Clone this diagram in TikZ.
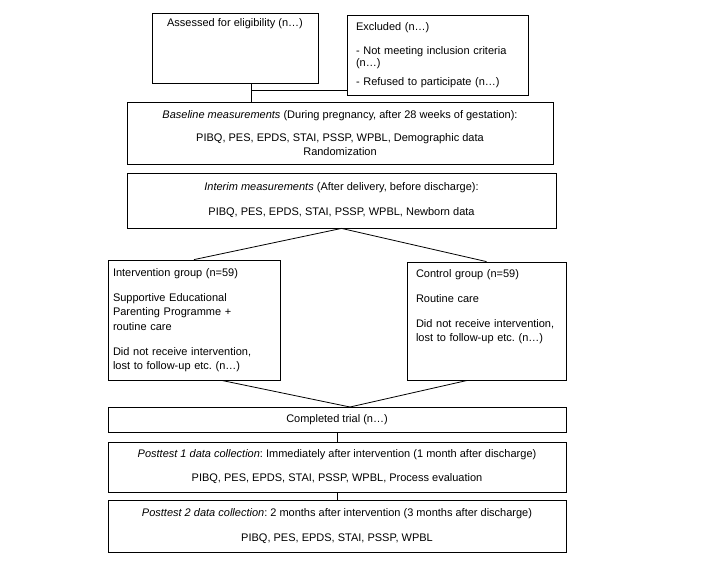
\documentclass[tikz,border=0pt]{standalone}
\usepackage{fontspec}
\setmainfont{Liberation Sans}
\frenchspacing
\usetikzlibrary{calc}

\begin{document}
\begin{tikzpicture}[x=1pt,y=-1pt,
  box/.style={draw,line width=0.8pt,inner xsep=5pt,inner ysep=3pt,font=\fontsize{11}{14.5}\selectfont},
  link/.style={line width=0.8pt}]
\useasboundingbox (0,0) rectangle (719,562);
\node[box,minimum width=166pt,text height=10pt,text depth=54pt] (assess) at (235,48) {Assessed for eligibility (n\ldots)};
\node[box,font=\fontsize{11}{12.5}\selectfont,minimum height=80pt,inner xsep=9pt,text width=163pt,align=left] (excl) at (437.5,55)
  {Excluded (n\ldots)\\[11pt] - Not meeting inclusion criteria\\ (n\ldots)\\[6pt] - Refused to participate (n\ldots)};
\node[box,minimum width=426pt,minimum height=62pt,align=center] (base) at (340,133)
  {\textit{Baseline measurements} (During pregnancy, after 28 weeks of gestation):\\[8.5pt]
   PIBQ, PES, EPDS, STAI, PSSP, WPBL, Demographic data\\ Randomization};
\node[box,minimum width=429pt,minimum height=55pt,align=center] (interim) at (341.5,200.5)
  {\textit{Interim measurements} (After delivery, before discharge):\\[10.5pt]
   PIBQ, PES, EPDS, STAI, PSSP, WPBL, Newborn data};
\node[box,minimum height=120pt,text width=162pt,align=left] (interv) at (194,320)
  {Intervention group (n=59)\\[10.5pt] Supportive Educational\\ Parenting Programme +\\ routine care\\[10.5pt]
   Did not receive intervention,\\ lost to follow-up etc. (n\ldots)};
\node[box,inner xsep=9pt,text width=141pt,align=left,text height=12pt,text depth=100pt] (ctrl) at (486.5,321)
  {Control group (n=59)\\[10.5pt] Routine care\\[10.5pt] Did not receive intervention,\\ lost to follow-up etc. (n\ldots)};
\node[box,minimum width=458pt,minimum height=25pt] (compl) at (337,419.5) {Completed trial (n\ldots)};
\node[box,minimum width=458pt,minimum height=50pt,align=center] (post1) at (337,467)
  {\textit{Posttest 1 data collection}: Immediately after intervention (1 month after discharge)\\[9.5pt]
   PIBQ, PES, EPDS, STAI, PSSP, WPBL, Process evaluation};
\node[box,minimum width=458pt,minimum height=52pt,align=center] (post2) at (337,526)
  {\textit{Posttest 2 data collection}: 2 months after intervention (3 months after discharge)\\[10.5pt]
   PIBQ, PES, EPDS, STAI, PSSP, WPBL};
\coordinate (split) at (251,90);
\coordinate (join) at (350,407);
\draw[link] (assess.south -| split) -- (base.north -| split);
\draw[link] (split) -- (excl.west |- split);
\draw[link] (interv.north) -- (interim.south) -- (ctrl.north);
\draw[link] ($(interv.south west)!0.66!(interv.south east)$) -- (join) -- ($(ctrl.south west)!0.38!(ctrl.south east)$);
\draw[link] (compl.south) -- (post1.north);
\draw[link] (post1.south) -- (post2.north);
\end{tikzpicture}
\end{document}
